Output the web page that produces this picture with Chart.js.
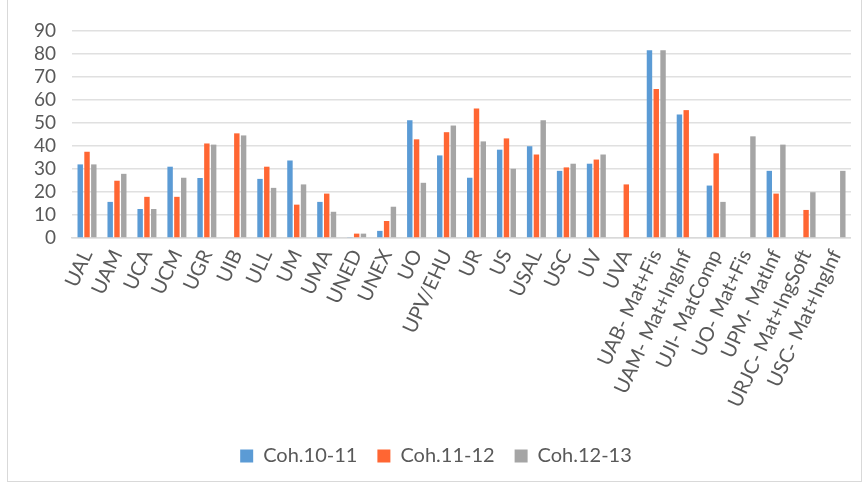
<!DOCTYPE html>
<html>
<head>
<meta charset="UTF-8">
<script src="https://cdn.jsdelivr.net/npm/chart.js@4.4.0/dist/chart.umd.min.js"></script>
<style>
  html, body { margin: 0; padding: 0; background: #fff; }
  #frame { position: absolute; left: 7px; top: -1px; width: 853px; height: 481px; border: 1px solid #d9d9d9; }
  #wrap { position: absolute; left: 0; top: 0; width: 866px; height: 482px; }
</style>
</head>
<body>
<div id="frame"></div>
<div id="wrap"><canvas id="myChart"></canvas></div>
<script>
// universities / degrees
const categories = ['UAL','UAM','UCA','UCM','UGR','UIB','ULL','UM','UMA','UNED','UNEX','UO','UPV/EHU','UR','US','USAL','USC','UV','UVA',
  'UAB- Mat+Fis','UAM- Mat+IngInf','UJI- MatComp','UO- Mat+Fis','UPM- MatInf','URJC- Mat+IngSoft','USC- Mat+IngInf'];
const coh1011 = [32,15.7,12.6,31,26.1,null,25.7,33.7,15.7,0.4,3.1,51.2,35.9,26.2,38.4,39.9,29.2,32.3,null,81.6,53.7,22.8,null,29.2,null,null];
const coh1112 = [37.5,24.9,17.9,17.9,41.1,45.5,31,14.5,19.3,1.9,7.4,42.9,46,56.3,43.3,36.3,30.7,34.1,23.3,64.8,55.6,36.8,null,19.3,12.2,null];
const coh1213 = [32,27.9,12.6,26.2,40.6,44.6,21.8,23.3,11.4,1.9,13.6,24,48.9,42,30.1,51.2,32.3,36.3,null,81.6,null,15.7,44.2,40.6,19.9,29.2];
const yTicks = [0,10,20,30,40,50,60,70,80,90];

const font = "Lato, 'Open Sans', sans-serif";
const txt = '#595959';

function ds(label, data, color) {
  return { label: label, data: data, backgroundColor: color, borderColor: color,
    barPercentage: 0.8, categoryPercentage: 0.68 };
}

let ctx = document.getElementById('myChart').getContext('2d');
new Chart(ctx, {
  type: 'bar',
  data: {
    labels: categories,
    datasets: [
      ds('Coh.10-11', coh1011, '#5B9BD5'),
      ds('Coh.11-12', coh1112, '#FF6633'),
      ds('Coh.12-13', coh1213, '#A5A5A5')
    ]
  },
  options: {
    responsive: true,
    maintainAspectRatio: false,
    animation: false,
    layout: { padding: { left: 18, right: 12, top: 31, bottom: 6 } },
    plugins: {
      tooltip: { enabled: false },
      legend: {
        position: 'bottom',
        labels: { font: { family: font, size: 20 }, color: txt, boxWidth: 13, boxHeight: 13, padding: 20 }
      }
    },
    scales: {
      y: {
        min: 0, max: 90,
        afterBuildTicks: axis => { axis.ticks = yTicks.map(v => ({ value: v })); },
        ticks: { font: { family: font, size: 19 }, color: txt, padding: 16, autoSkip: false },
        grid: { color: '#e0e0e0', lineWidth: 1.5, drawTicks: false },
        border: { display: false }
      },
      x: {
        afterFit: axis => { axis.height = 188; },
        ticks: { font: { family: font, size: 20 }, color: txt, minRotation: 65, maxRotation: 65, autoSkip: false, padding: 8 },
        grid: { display: false, drawTicks: false },
        border: { display: true, color: '#d9d9d9', width: 1.5 }
      }
    }
  }
});
</script>
</body>
</html>
